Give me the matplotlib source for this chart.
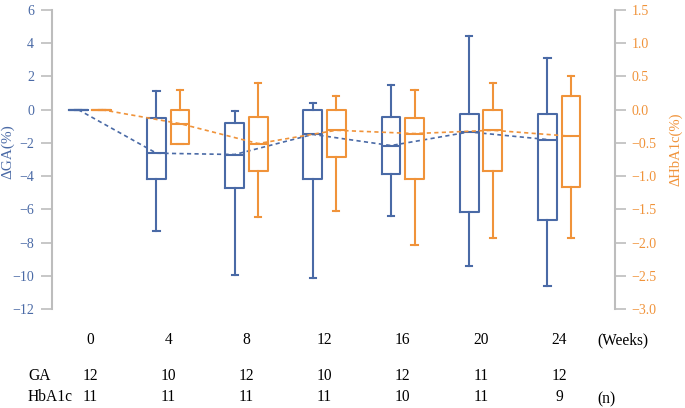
import matplotlib
matplotlib.use("Agg")
import matplotlib.pyplot as plt
import matplotlib.transforms as mtransforms

weeks = ["0", "4", "8", "12", "16", "20", "24"]
ga_n = ["12", "10", "12", "10", "12", "11", "12"]
hba_n = ["11", "11", "11", "11", "10", "11", "9"]

ga_whislo = [0, -7.30, -9.93, -10.13, -6.42, -9.41, -10.61]
ga_q1 = [0, -4.19, -4.69, -4.20, -3.90, -6.19, -6.66]
ga_med = [0, -2.62, -2.70, -1.49, -2.16, -1.34, -1.80]
ga_q3 = [0, -0.49, -0.83, 0.0, -0.45, -0.29, -0.27]
ga_whishi = [0, 1.13, -0.09, 0.39, 1.49, 4.43, 3.12]

hba_whislo = [0, -0.51, -1.62, -1.53, -2.03, -1.93, -1.93]
hba_q1 = [0, -0.51, -0.92, -0.71, -1.04, -0.92, -1.17]
hba_med = [0, -0.21, -0.51, -0.31, -0.36, -0.31, -0.40]
hba_q3 = [0, 0.0, -0.11, 0.0, -0.13, 0.0, 0.20]
hba_whishi = [0, 0.30, 0.40, 0.20, 0.30, 0.40, 0.50]

BLUE = "#4a6aa6"
ORANGE = "#f0933a"
GREY = "#bdbdbd"

plt.rcParams["font.family"] = ["Liberation Serif", "DejaVu Serif"]

fig = plt.figure(figsize=(6.85, 4.08), dpi=100)
ax = fig.add_axes([52 / 685, 1 - 309 / 408, (615 - 52) / 685, (309 - 10) / 408])
ax2 = ax.twinx()

n = len(weeks)
xc = list(range(n))
xb = [i - 0.15 for i in xc]
xo = [i + 0.15 for i in xc]


def stats(lo, q1, med, q3, hi):
    return [dict(whislo=a, q1=b, med=c, q3=d, whishi=e, fliers=[])
            for a, b, c, d, e in zip(lo, q1, med, q3, hi)]


def draw(axis, st, pos, col):
    lp = dict(color=col, linewidth=1.5)
    axis.bxp(st, positions=pos, widths=0.24, capwidths=0.08,
             showfliers=False, manage_ticks=False,
             boxprops=lp, whiskerprops=lp, capprops=lp, medianprops=lp)


draw(ax, stats(ga_whislo, ga_q1, ga_med, ga_q3, ga_whishi), xb, BLUE)
ax.plot(xb, ga_med, color=BLUE, lw=1.2, ls=(0, (2.5, 2)))
draw(ax2, stats(hba_whislo, hba_q1, hba_med, hba_q3, hba_whishi), xo, ORANGE)
ax2.plot(xo, hba_med, color=ORANGE, lw=1.2, ls=(0, (2.5, 2)))

ax.set_xlim(-0.486, 6.714)
ax.set_ylim(-12, 6)
ax2.set_ylim(-3, 1.5)
ax.set_yticks(range(-12, 7, 2))
rticks = [-3.0, -2.5, -2.0, -1.5, -1.0, -0.5, 0.0, 0.5, 1.0, 1.5]
ax2.set_yticks(rticks)
ax2.set_yticklabels([f"{v:.1f}".replace("-", "\u2212") for v in rticks])
ax.set_xticks([])

for a in (ax, ax2):
    for s in ("top", "bottom"):
        a.spines[s].set_visible(False)
    a.patch.set_visible(False)
ax.spines["right"].set_visible(False)
ax2.spines["left"].set_visible(False)
ax.spines["left"].set_color(GREY)
ax.spines["left"].set_linewidth(1.5)
ax2.spines["right"].set_color(GREY)
ax2.spines["right"].set_linewidth(1.5)

ax.tick_params(axis="y", colors=GREY, labelcolor=BLUE, length=8, width=1.2,
               labelsize=10, pad=5)
ax2.tick_params(axis="y", colors=GREY, labelcolor=ORANGE, length=8, width=1.2,
                labelsize=10, pad=4)

fig.text(8 / 685, 1 - 152 / 408, "\u0394GA(%)", rotation=90, color=BLUE,
         fontsize=11, ha="center", va="center")
fig.text(676 / 685, 1 - 149 / 408, "\u0394HbA1c(%)", rotation=90, color=ORANGE,
         fontsize=10.5, ha="center", va="center")

FS = 11.2
trans = mtransforms.blended_transform_factory(ax.transData, fig.transFigure)
yw = 1 - 340 / 408
yg = 1 - 376 / 408
yh = 1 - 397 / 408
for i in range(n):
    ax.text(xc[i], yw, weeks[i], transform=trans, ha="center", va="center",
            fontsize=FS, clip_on=False)
    ax.text(xc[i], yg, ga_n[i], transform=trans, ha="center", va="center",
            fontsize=FS, clip_on=False)
    ax.text(xc[i], yh, hba_n[i], transform=trans, ha="center", va="center",
            fontsize=FS, clip_on=False)

fig.text(28 / 685, yg, "GA", ha="left", va="center", fontsize=FS)
fig.text(28 / 685, yh, "HbA1c", ha="left", va="center", fontsize=FS)
fig.text(597 / 685, yw, "(Weeks)", ha="left", va="center", fontsize=FS)
fig.text(597 / 685, 1 - 399 / 408, "(n)", ha="left", va="center", fontsize=FS)

fig.savefig("out.png", dpi=100)
